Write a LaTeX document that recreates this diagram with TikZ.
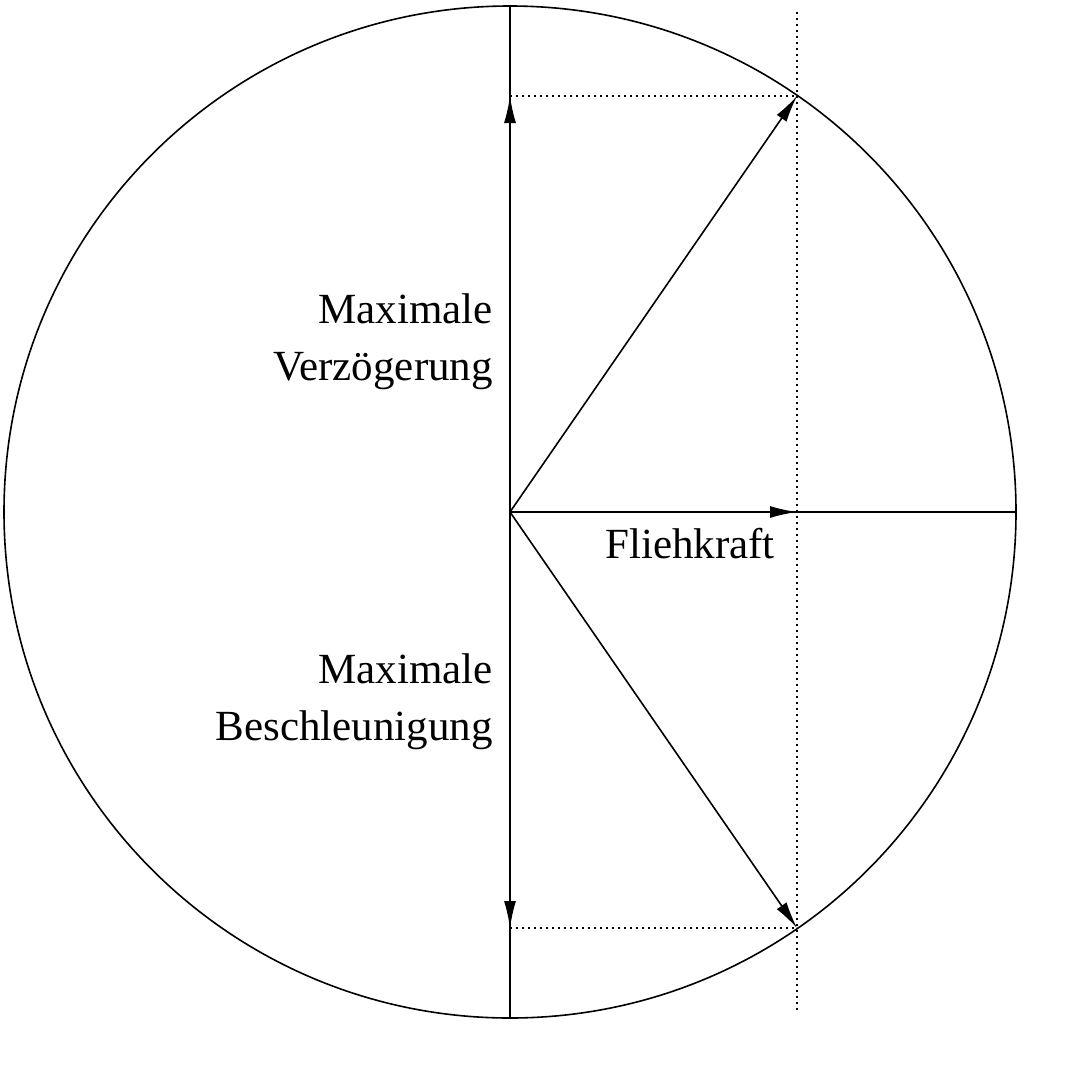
\documentclass[tikz,border=0pt]{standalone}
\usepackage{fontspec}
\setmainfont{Liberation Serif}
\usetikzlibrary{arrows.meta}
\begin{document}
\begin{tikzpicture}[x=1pt,y=-1pt,
  ln/.style={line width=1.6pt, black},
  arr/.style={ln, -{Latex[length=27pt,width=12pt]}},
  dots/.style={line width=1.6pt, dash pattern=on 1.8pt off 4.2pt},
  lbl/.style={inner sep=0pt, font=\fontsize{43}{57}\selectfont}]
\useasboundingbox (0,0) rectangle (1082,1080);
\coordinate (O) at (510,512);
\coordinate (T) at (510,6);
\coordinate (B) at (510,1018);
\coordinate (R) at (1016,512);
\coordinate (F) at (797,512);
\coordinate (UP) at (797,96);
\coordinate (DP) at (797,928);
\coordinate (UA) at (510,96);
\coordinate (DA) at (510,928);
\coordinate (DT) at (797,12);
\coordinate (DB) at (797,1010);
\draw[ln] (O) circle[radius=506];
\draw[ln] (T) -- (B);
\draw[ln] (O) -- (R);
\draw[dots] (DT) -- (DB);
\draw[dots] (UA) -- (UP);
\draw[dots] (DA) -- (DP);
\draw[arr] (O) -- (UA);
\draw[arr] (O) -- (DA);
\draw[arr] (O) -- (UP);
\draw[arr] (O) -- (DP);
\draw[arr] (O) -- (F);
\node[lbl, anchor=base east] (m1) at (493,323) {Maximale};
\node[lbl, anchor=base east] (v1) at (493,380) {Verzögerung};
\node[lbl, anchor=base east] (m2) at (493,683) {Maximale};
\node[lbl, anchor=base east] (b2) at (493,740) {Beschleunigung};
\node[lbl, anchor=base west] (fk) at (605,558) {Fliehkraft};
\end{tikzpicture}
\end{document}
